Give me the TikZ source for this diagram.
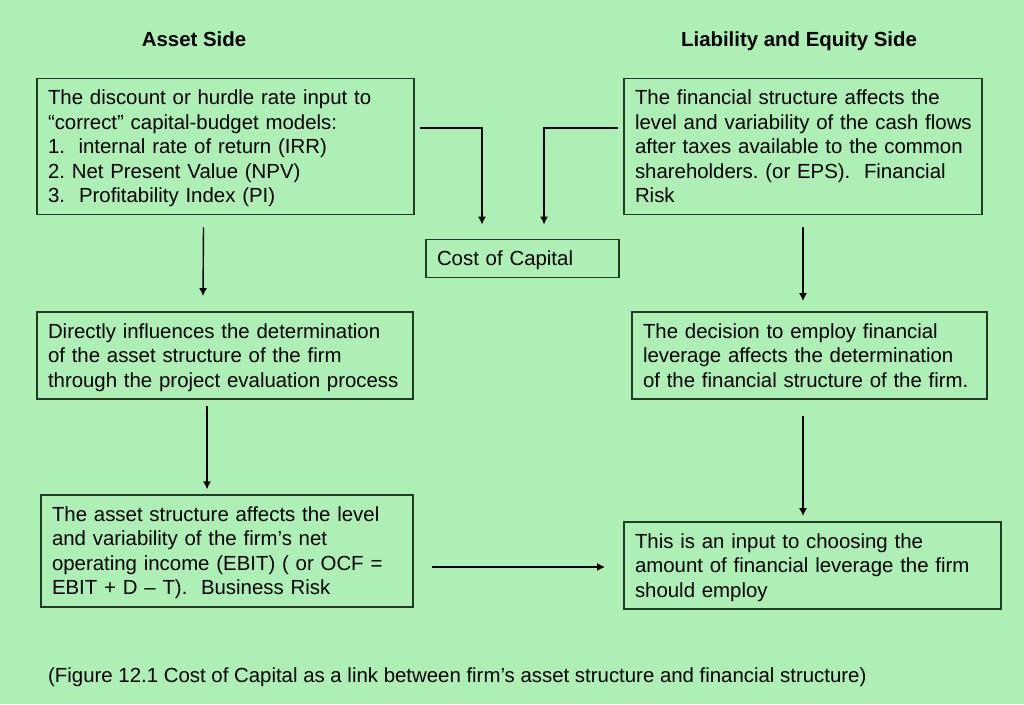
\documentclass[tikz,border=0pt]{standalone}
\usepackage{fontspec}
\setmainfont{Liberation Sans}
\usepackage{xcolor}
\definecolor{bgreen}{HTML}{ADEFB4}
\definecolor{boxline}{HTML}{233A23}
\usetikzlibrary{arrows.meta}
\frenchspacing

\begin{document}
\begin{tikzpicture}[x=1pt, y=-1pt,
    box/.style={rectangle, draw=boxline, line width=1.8pt, align=left,
        inner xsep=11pt, inner ysep=7.5pt, font=\fontsize{20.4}{24.5}\selectfont,
        execute at begin node={\rule{0pt}{18.5pt}},
        execute at end node={\rule[-4.5pt]{0pt}{0pt}}},
    head/.style={anchor=base, inner sep=0pt, font=\fontsize{20.4}{24.5}\selectfont\bfseries},
    arr/.style={line width=1.4pt, -{Latex[length=8pt, width=8pt]}}]
                        \useasboundingbox (0, 0) rectangle (1024, 704);
                        \fill[bgreen] (0, 0) rectangle (1024, 704);

                        \node (asset) at (194, 46) [head] {Asset Side};
                        \node (liab) at (799, 46) [head] {Liability and Equity Side};

                        % asset side
                        \node (a1) at (225.5, 146.5) [box, text width=355pt] {The discount or hurdle rate input to\\
                            “correct” capital-budget models:\\
                            1.\ \ internal rate of return (IRR)\\
                            2. Net Present Value (NPV)\\
                            3.\hspace{14pt}Profitability Index (PI)};
                        \node (a2) at (225, 355.5) [box, text width=354pt] {Directly influences the determination\\
                            of the asset structure of the firm\\
                            through the project evaluation process};
                        \node (a3) at (227, 551) [box, text width=350pt] {The asset structure affects the level\\
                            and variability of the firm’s net\\
                            operating income (EBIT) ( or OCF =\\
                            EBIT + D – T).\ \ Business Risk};

                        \node (cost) at (522.5, 258.5) [box, text width=171pt] {Cost of Capital};

                        % liability and equity side
                        \node (l1) at (803, 146.5) [box, text width=336pt] {The financial structure affects the\\
                            \mbox{level and variability of the cash flows}\\
                            after taxes available to the common\\
                            shareholders. (or EPS).\ \ Financial\\
                            Risk};
                        \node (l2) at (809.5, 355.5) [box, text width=333pt] {The decision to employ financial\\
                            leverage affects the determination\\
                            of the financial structure of the firm.};
                        \node (l3) at (812.5, 565.5) [box, text width=355pt] {This is an input to choosing the\\
                            amount of financial leverage the firm\\
                            should employ};

                        \draw[arr] ([xshift=5pt, yshift=18.5pt]a1.east) -| ([xshift=-40.5pt, yshift=14pt]cost.north);
                        \draw[arr] ([xshift=-5pt, yshift=18.5pt]l1.west) -| ([xshift=21.5pt, yshift=14pt]cost.north);

                        \draw[arr] ([xshift=-22pt, yshift=-12pt]a1.south) -- ([xshift=-22pt, yshift=15pt]a2.north);
                        \draw[arr] ([xshift=-18pt, yshift=-6pt]a2.south) -- ([xshift=-20pt, yshift=5pt]a3.north);
                        \draw[arr] ([yshift=-12pt]l1.south) -- ([xshift=-6.5pt, yshift=10pt]l2.north);
                        \draw[arr] ([xshift=-6.5pt, yshift=-16pt]l2.south) -- ([xshift=-9.5pt, yshift=5pt]l3.north);
                        \draw[arr] ([xshift=18pt, yshift=-16pt]a3.east) -- ([xshift=-18pt, yshift=-1.5pt]l3.west);

                        \node (cap) at (48, 682) [anchor=base west, inner sep=0pt, font=\fontsize{20.4}{24.5}\selectfont] {(Figure 12.1 Cost of Capital as a link between firm’s asset structure and financial structure)};
                    \end{tikzpicture}
\end{document}
